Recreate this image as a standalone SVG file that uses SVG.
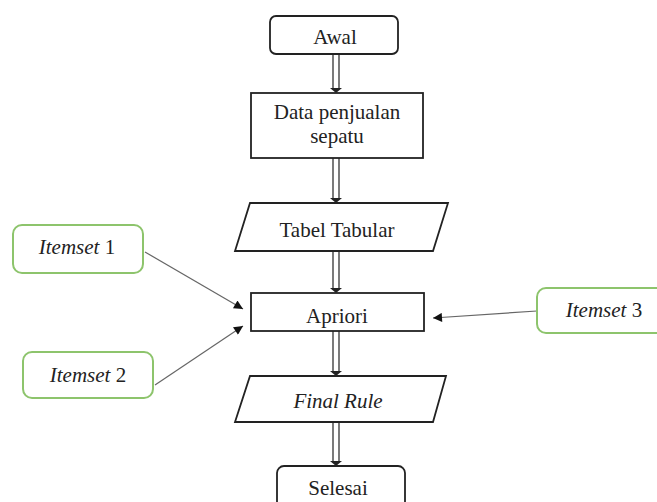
<svg xmlns="http://www.w3.org/2000/svg" width="657" height="502" viewBox="0 0 657 502">
<defs>
<style>
.box{fill:#fff;stroke:#222;stroke-width:1.8}
.grn{fill:#fff;stroke:#8dc46c;stroke-width:2}
.t{font-family:"Liberation Serif","Times New Roman",serif;font-size:21px;fill:#222;text-anchor:middle}
.i{font-style:italic}
.dl{stroke:#333;stroke-width:1.3;fill:none}
.ah{fill:#222}
.cn{stroke:#666;stroke-width:1.2;fill:none}
</style>
<marker id="arr" viewBox="0 0 10 10" refX="10" refY="5" markerWidth="11" markerHeight="9" markerUnits="userSpaceOnUse" orient="auto">
<path d="M0,0 L10,5 L0,10 z" fill="#111"/>
</marker>
</defs>
<rect width="657" height="502" fill="#fff"/>
<g id="connectors">
<g id="c1"><line class="dl" x1="333" y1="54" x2="333" y2="89"/><line class="dl" x1="339" y1="54" x2="339" y2="89"/><polygon class="ah" points="330,88 342,88 336,93"/></g>
<g id="c2"><line class="dl" x1="333" y1="158" x2="333" y2="199"/><line class="dl" x1="339" y1="158" x2="339" y2="199"/><polygon class="ah" points="330,198 342,198 336,203"/></g>
<g id="c3"><line class="dl" x1="333" y1="251" x2="333" y2="289"/><line class="dl" x1="339" y1="251" x2="339" y2="289"/><polygon class="ah" points="330,288 342,288 336,293"/></g>
<g id="c4"><line class="dl" x1="333" y1="331" x2="333" y2="372"/><line class="dl" x1="339" y1="331" x2="339" y2="372"/><polygon class="ah" points="330,371 342,371 336,376"/></g>
<g id="c5"><line class="dl" x1="333" y1="422" x2="333" y2="462"/><line class="dl" x1="339" y1="422" x2="339" y2="462"/><polygon class="ah" points="330,461 342,461 336,466"/></g>
<line class="cn" x1="145" y1="252" x2="243" y2="309" marker-end="url(#arr)"/>
<line class="cn" x1="155" y1="385" x2="243" y2="326" marker-end="url(#arr)"/>
<line class="cn" x1="537" y1="311" x2="433" y2="318" marker-end="url(#arr)"/>
</g>
<g id="awal"><rect class="box" x="270" y="16" width="128" height="38" rx="6"/><text class="t" x="335" y="44">Awal</text></g>
<g id="data"><rect class="box" x="251" y="93" width="172" height="65"/><text class="t" x="337" y="119">Data penjualan</text><text class="t" x="337" y="143">sepatu</text></g>
<g id="tabel"><polygon class="box" points="250,203 448,203 433,251 235,251"/><text class="t" x="337" y="237">Tabel Tabular</text></g>
<g id="apriori"><rect class="box" x="251" y="293" width="173" height="38"/><text class="t" x="337" y="323">Apriori</text></g>
<g id="final"><polygon class="box" points="250,376 446,376 433,422 235,422"/><text class="t i" x="338" y="408">Final Rule</text></g>
<g id="selesai"><rect class="box" x="277" y="466" width="128" height="50" rx="7"/><text class="t" x="338" y="495">Selesai</text></g>
<g id="itemset1"><rect class="grn" x="13" y="225" width="130" height="48" rx="9"/><text class="t" x="77" y="254"><tspan class="i">Itemset</tspan> 1</text></g>
<g id="itemset2"><rect class="grn" x="23" y="352" width="130" height="46" rx="9"/><text class="t" x="88" y="382"><tspan class="i">Itemset</tspan> 2</text></g>
<g id="itemset3"><rect class="grn" x="537" y="288" width="130" height="45" rx="9"/><text class="t" x="604" y="317"><tspan class="i">Itemset</tspan> 3</text></g>
</svg>
